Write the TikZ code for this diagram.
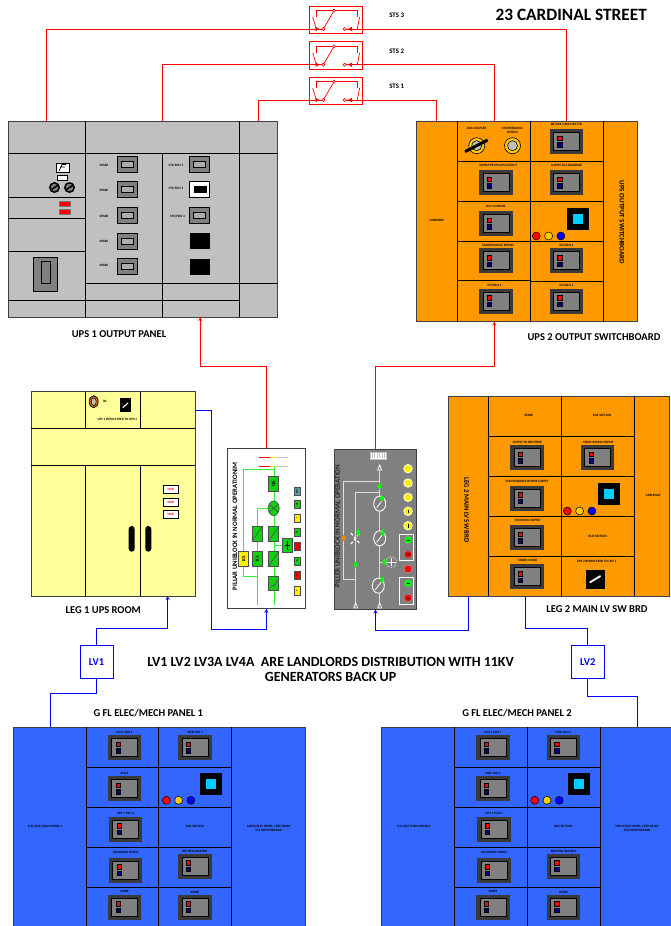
\documentclass[tikz,border=0pt]{standalone}
\usepackage{fontspec}
\setmainfont{Carlito}
\usetikzlibrary{fit,shapes.geometric,arrows,calc}

\definecolor{upsgrey}{HTML}{C0C0C0}
\definecolor{swgrey}{HTML}{808080}
\definecolor{swdark}{HTML}{3A3A3A}
\definecolor{boardorange}{HTML}{FF9900}
\definecolor{roomyellow}{HTML}{FFFF99}
\definecolor{panelblue}{HTML}{3366FF}
\definecolor{ledcyan}{HTML}{00CCFF}
\definecolor{ledamber}{HTML}{FFCC00}
\definecolor{uniblockgreen}{HTML}{10D010}
\definecolor{busgreen}{HTML}{33EE33}

\tikzstyle{panel} = [draw=black!75, line width=0.9pt, inner sep=0pt]
\tikzstyle{cell} = [black, line width=0.9pt]
\tikzstyle{redwire} = [red, line width=0.8pt]
\tikzstyle{redarrow} = [red, line width=0.8pt, ->, >=stealth]
\tikzstyle{bluewire} = [blue, line width=0.8pt]
\tikzstyle{bluearrow} = [blue, line width=0.8pt, ->, >=stealth]
\tikzstyle{lvbox} = [draw=blue, line width=0.8pt, minimum width=33pt, minimum height=33pt, inner sep=0pt, text=blue, font=\fontsize{10.5}{12}\selectfont\bfseries]
\tikzstyle{stsbox} = [draw=red, line width=0.7pt, minimum width=53.4pt, minimum height=27.7pt, inner sep=0pt]
\tikzstyle{caption} = [inner sep=0pt, font=\fontsize{10.5}{12}\selectfont\bfseries]
\tikzstyle{stslab} = [inner sep=0pt, font=\fontsize{6.9}{8}\selectfont\bfseries]
\tikzstyle{tinylab} = [inner sep=0pt, align=center, font=\fontsize{3.3}{3.8}\selectfont\bfseries]
\tikzstyle{gbox} = [draw=black!70, line width=0.7pt, fill=uniblockgreen, minimum width=10pt, minimum height=14.5pt, inner sep=0pt, font=\fontsize{5}{5}\selectfont\bfseries]
\tikzstyle{gchip} = [draw=black!70, line width=0.6pt, fill=uniblockgreen, minimum width=6pt, minimum height=8.5pt, inner sep=0pt, font=\fontsize{2.6}{3}\selectfont\bfseries]

\newcounter{labno}
\newcommand{\Lab}[3]{\stepcounter{labno}\node[tinylab] (lab\thelabno) at (#1,#2) {#3};}
\newcommand{\PanelBox}[6]{\node[panel, fill=#6, fit={(#2,#3)(#4,#5)}] (#1) {};}

% big breaker with red and navy lamps
\newcommand{\Breaker}[2]{%
  \fill[swdark] (#1-16.7,#2-12.5) rectangle (#1+16.7,#2+12.5);
  \filldraw[fill=swgrey, draw=black, line width=0.8pt] (#1-13,#2-9) rectangle (#1+13,#2+9);
  \filldraw[fill=red, draw=black, line width=0.4pt] (#1-9,#2-5.5) rectangle (#1-4.5,#2-1);
  \filldraw[fill=blue!50!black, draw=black, line width=0.4pt] (#1-9,#2+1) rectangle (#1-4.5,#2+5.5);
}
% small breaker of the grey panel
\newcommand{\GreyBrk}[2]{%
  \filldraw[fill=swgrey, draw=black, line width=0.8pt] (#1-10,#2-8) rectangle (#1+10,#2+8);
  \draw[black, fill=upsgrey!70!swgrey, line width=0.7pt] (#1-6,#2-3) rectangle (#1+6,#2+3);
}
\newcommand{\Meter}[2]{%
  \fill[black] (#1-11,#2-11) rectangle (#1+11,#2+11);
  \fill[ledcyan] (#1-5,#2-5) rectangle (#1+5,#2+5);
}
\newcommand{\ThreeLeds}[2]{%
  \filldraw[fill=red, draw=black, line width=0.5pt] (#1,#2) circle (4);
  \filldraw[fill=ledamber, draw=black, line width=0.5pt] (#1+12.3,#2) circle (4);
  \filldraw[fill=blue, draw=black, line width=0.5pt] (#1+24.6,#2) circle (4);
}
\newcommand{\KeySw}[2]{%
  \fill[black] (#1-9.5,#2-9.5) rectangle (#1+9.5,#2+9.5);
  \draw[white, line width=1.8pt, line cap=round] (#1-5,#2+3) -- (#1+5,#2-3);
}
\newcommand{\StsSwitch}[2]{%
  \begin{scope}[shift={(0,#2)}]
    \node[stsbox] (#1) at (336,19.85) {};
    \coordinate (#1l) at (323.3,29);
    \coordinate (#1r) at (344.7,29);
    \draw[red, line width=0.7pt] (#1l) -- (334,10.7);
    \draw[red, line width=0.7pt] (316,17) -- (316,10.7) -- (357.3,10.7) -- (357.3,17);
    \draw[red, line width=0.7pt] (312.7,17) -- (316.3,29) (359.6,17) -- (357.3,29);
    \filldraw[fill=white, draw=red, line width=0.6pt] (334,10.7) circle (1.6);
    \fill[red] (315.5,26.8) -- (319.5,29) -- (315.5,31.2) -- cycle;
    \fill[red] (352,26.8) -- (348,29) -- (352,31.2) -- cycle;
  \end{scope}
}
\newcommand{\StsDots}[1]{%
  \filldraw[fill=white, draw=red, line width=0.6pt] (#1l) circle (1.6);
  \filldraw[fill=white, draw=red, line width=0.6pt] (#1r) circle (1.6);
}
% ground floor panel, both are the same apart from the labels
\newcommand{\GfPanel}[9]{%
  \PanelBox{#1}{13.3+#2}{727}{305+#2}{932}{panelblue}
  \begin{scope}[shift={(#2,0)}]
    \draw[cell] (86.3,727) -- (86.3,932) (158.7,727) -- (158.7,932) (231.7,727) -- (231.7,932);
    \draw[cell] (86.3,767) -- (231.7,767) (86.3,807.3) -- (231.7,807.3) (86.3,847.3) -- (231.7,847.3) (86.3,887.7) -- (231.7,887.7);
    \Breaker{124.7}{747.3} \Breaker{124.7}{788.3} \Breaker{125.7}{829} \Breaker{125.7}{870} \Breaker{124.7}{907}
    \Breaker{195}{747.3} \Breaker{195}{866} \Breaker{195}{907}
    \Meter{210.5}{784}
    \ThreeLeds{166.3}{800.3}
    \Lab{124.5}{732.7}{#5} \Lab{195}{732.7}{#6} \Lab{124.5}{773}{#7} \Lab{125.5}{813}{#8}
    \Lab{195}{826.7}{BUS SECTION} \Lab{126}{852.7}{INCOMING SUPPLY} \Lab{195}{851.7}{#9}
    \Lab{124.5}{891.7}{SPARE} \Lab{195}{892.7}{SPARE}
    \Lab{45.3}{826.7}{#3} \Lab{268.7}{828.7}{#4}
  \end{scope}
}

\begin{document}
\begin{tikzpicture}[x=1pt, y=-1pt]
  \clip (0,0) rectangle (671,926);
  \fill[white] (0,0) rectangle (671,926);

  % UPS 1 output panel
  \PanelBox{ups1}{8}{121}{277}{317}{upsgrey}
  \draw[cell] (85,121) -- (85,317) (239,121) -- (239,317) (162,153.5) -- (162,317);
  \draw[cell] (8,153.5) -- (277,153.5) (85,283) -- (277,283) (8,300) -- (239,300);
  \draw[cell] (8,197.5) -- (85,197.5) (8,218.5) -- (85,218.5) (8,251) -- (85,251);
  \filldraw[fill=white, draw=black, line width=0.7pt] (56,163) rectangle (69.5,172.5);
  \draw[black, line width=0.7pt] (59,171) -- (62,164.5) -- (66,164.5) (60,167) -- (65,167);
  \filldraw[fill=white, draw=black, line width=0.6pt] (57.5,175) rectangle (67.5,180.5);
  \foreach \kx in {54.5,69.5} {
    \filldraw[fill=swgrey, draw=black, line width=1.5pt] (\kx,187.5) circle (4.7);
    \draw[black, line width=1.6pt] (\kx-3,189.5) -- (\kx+3,185.5);
  }
  \filldraw[fill=red, draw=upsgrey!60!black, line width=0.4pt] (59.5,201) rectangle (70.5,206.5);
  \filldraw[fill=red, draw=upsgrey!60!black, line width=0.4pt] (59.5,209) rectangle (70.5,214.5);
  \filldraw[fill=swgrey, draw=black, line width=0.7pt] (33.5,257) rectangle (57.5,291);
  \draw[black, line width=0.7pt] (41.5,261.5) rectangle (50,283);
  \foreach \by/\ty in {164.5/165.5,189/190.5,215.5/216.5,241/241.5,266.5/265.5} {
    \GreyBrk{127.5}{\by}
    \Lab{104}{\ty}{SPARE}
  }
  \GreyBrk{199.5}{164.5} \GreyBrk{199.5}{215.5}
  \filldraw[fill=white, draw=black, line width=0.8pt] (189.5,181) rectangle (209.5,197);
  \fill[black] (193.5,186) rectangle (207,192.5);
  \fill[black] (189.5,233) rectangle (209.5,249);
  \fill[black] (189.5,258.5) rectangle (209.5,274.5);
  \Lab{176}{165.5}{STS/PDU 1} \Lab{176}{188.5}{STS/PDU 2} \Lab{177.5}{216.5}{STS/PDU 3}

  % UPS 2 output switchboard
  \PanelBox{ups2}{416}{121}{637}{321.5}{boardorange}
  \draw[cell] (457.7,121) -- (457.7,321.5) (530.7,121) -- (530.7,321.5) (603.3,121) -- (603.3,321.5);
  \draw[cell] (457.7,161.3) -- (603.3,161.3) (457.7,201.2) -- (603.3,201.2) (457.7,241) -- (603.3,241);
  \draw[cell] (457.7,280.3) -- (530.7,280.3) (530.7,281.7) -- (603.3,281.7);
  \foreach \bx/\by in {566.5/141.5,496/182.5,566.5/182.5,496/223.5,496/260.7,566.5/260.7,496/301,566.5/301} {
    \Breaker{\bx}{\by}
  }
  \filldraw[fill=ledamber, draw=black, line width=0.6pt] (476.7,145.7) circle (8);
  \filldraw[fill=upsgrey, draw=black, line width=0.6pt] (476.7,145.7) circle (5);
  \draw[black, line width=3pt] (465,151.7) -- (487.7,140);
  \filldraw[fill=ledamber, draw=black, line width=0.6pt] (512.5,145.7) circle (8);
  \filldraw[fill=upsgrey, draw=black, line width=0.6pt] (512.5,145.7) circle (5);
  \Meter{578}{219.3}
  \ThreeLeds{536.3}{236}
  \Lab{476.7}{128.5}{BUS COUPLER} \Lab{512.5}{130.3}{MAINTENANCE\\BYPASS}
  \Lab{566.5}{124.7}{BB/UPS 1 BM/UPS FTD} \Lab{498.3}{165.7}{SUPPLY FROM UPS OUTPUT}
  \Lab{566.5}{165.7}{SUPPLY TO LOADBANK} \Lab{496}{206.7}{BUS COUPLER}
  \Lab{498}{245.7}{MAINTENANCE BYPASS} \Lab{566.5}{245.7}{STS/BUS 1}
  \Lab{494.5}{285}{STS/BUS 3} \Lab{566.5}{285}{STS/BUS 2} \Lab{436.7}{220.7}{CABLEWAY}
  \node[inner sep=0pt, rotate=-90, font=\fontsize{7}{8}\selectfont\bfseries] (ups2side) at (622,222.3) {UPS OUTPUT SWITCHBOARD};

  % LEG 1 UPS room
  \PanelBox{leg1}{31}{391.7}{195}{596}{roomyellow}
  \draw[cell] (85.7,391.7) -- (85.7,428.3) (140,391.7) -- (140,428.3) (85.7,465.7) -- (85.7,596) (140,465.7) -- (140,596);
  \draw[cell] (31,428.3) -- (195,428.3) (31,465.7) -- (195,465.7);
  \filldraw[fill=orange!80!black, draw=black, line width=0.7pt] (93.7,401.7) ellipse (4.5 and 6);
  \filldraw[fill=upsgrey, draw=black, line width=0.5pt] (93.7,401.7) ellipse (2.5 and 3.8);
  \fill[black] (119.7,397.7) rectangle (131,412.3);
  \draw[white, line width=1.1pt, line cap=round] (123,407.5) -- (128,403);
  \Lab{105}{401}{BS} \Lab{117.3}{419.3}{UPS 1 BYPASS FEED TO UPS 2}
  \foreach \my in {485.3,498,510.7} {
    \filldraw[fill=white, draw=black, line width=0.7pt] (163,\my) rectangle (178.7,\my+8);
    \node[tinylab, text=red] (mcb\my) at (170.8,\my+4) {MCB};
  }
  \fill[black, rounded corners=3pt] (128.7,526) rectangle (134.7,551.7);
  \fill[black, rounded corners=3pt] (145.3,526) rectangle (151.3,551.7);

  % pillar uniblock, leg 1
  \PanelBox{pillar1}{227.3}{448.7}{305.3}{608.3}{white}
  \node[inner sep=0pt, rotate=90, font=\fontsize{6.8}{7}\selectfont\bfseries] (pil1txt) at (235,526.5) {PILLAR UNIBLOCK IN NORMAL OPERATIONIM};
  \foreach \ty in {457.3,466.3} {
    \draw[red, line width=0.9pt] (259.3,\ty) -- (270,\ty);
    \draw[yellow!90!orange, line width=0.9pt] (270,\ty) -- (276.7,\ty);
    \draw[upsgrey, line width=0.9pt] (276.7,\ty) -- (288.3,\ty);
  }
  \draw[busgreen, line width=1pt] (274,466.3) -- (274,605) (257.3,605) -- (257.3,508.3) -- (274,508.3);
  \draw[busgreen, line width=1pt] (274,469) -- (243.7,469) -- (243.7,576) -- (257.3,576) (274,545) -- (282.3,545);
  \node[gbox] (q5) at (273.7,483.8) {\rotatebox{90}{Q5}};
  \node[gbox, ellipse, minimum width=11pt] (qbypass) at (273.7,508.3) {};
  \draw[black!70, line width=0.6pt] (269.5,512) -- (278,504.5) (269.5,504.5) -- (278,512);
  \node[gbox] (q4a) at (257.3,533.6) {};
  \node[gbox] (q4b) at (273.7,533.6) {};
  \node[gbox] (k1) at (257.3,558.6) {\rotatebox{90}{K1}};
  \node[gbox, fill=yellow] (ks) at (243.7,558.6) {\rotatebox{90}{KS}};
  \node[gbox] (q1) at (273.7,558.6) {};
  \node[gbox] (bat) at (287.3,545.5) {};
  \node[gbox] (q3) at (273.7,583.5) {};
  \foreach \sw in {q4a,q4b,q1} {
    \draw[black!70, line width=0.6pt] (\sw.south west) -- (\sw.north east);
  }
  \draw[black!70, line width=0.6pt] (270,586) -- (274,586) -- (277,580);
  \draw[black, line width=0.8pt] (287.3,541) -- (287.3,550) (284.5,545.5) -- (290,545.5);
  \foreach \cy/\cc/\ct in {491.3/teal!70/SBS,504.3/uniblockgreen/Q1,518.2/yellow/I,532.3/uniblockgreen/Q,546.3/red/L,561.2/uniblockgreen/R,575.3/red/L2,590.7/yellow/T} {
    \node[gchip, fill=\cc] (chip\cy) at (297,\cy) {\rotatebox{90}{\ct}};
  }

  % piller uniblock, leg 2
  \PanelBox{pillar2}{334.7}{449.3}{416.3}{609}{swgrey}
  \node[inner sep=0pt, rotate=90, text=black!85, font=\fontsize{7}{7}\selectfont\bfseries] (pil2txt) at (337.7,526) {PILLER UNIBLOCK IN NORMAL OPERATION};
  \filldraw[fill=white, draw=upsgrey, line width=0.4pt] (369.7,452.3) rectangle (386.3,459);
  \foreach \gx in {372,374.5,377,379.5,382,384.5} {
    \draw[upsgrey, line width=0.5pt] (\gx,453) -- (\gx,458.4);
  }
  \draw[upsgrey!50!white, line width=1pt] (379.7,468) -- (379.7,604) (355.7,604) -- (355.7,492.3) -- (379.7,492.3);
  \draw[upsgrey!50!white, line width=1pt] (379.7,481) -- (343.7,481) -- (343.7,579) -- (355.7,579) (379.7,562) -- (386,562);
  \foreach \ax/\ay/\ad in {379.7/465/-1,355.7/603/1,379.7/603/1} {
    \filldraw[fill=swgrey, draw=white, line width=0.8pt] (\ax,\ay) -- (\ax-2,\ay+5) -- (\ax+2,\ay+5) -- cycle;
  }
  \foreach \ox/\oy in {379.7/503.7,379.7/538.3,378.3/585.7} {
    \filldraw[fill=swgrey, draw=white, line width=0.9pt] (\ox,\oy) ellipse (6 and 7.5);
    \draw[white, line width=0.8pt] (\ox-3,\oy+4) -- (\ox+3,\oy-4);
  }
  \draw[white, line width=1.2pt, densely dashed] (351,533) -- (360,544) (351,544) -- (360,533);
  \draw[white, line width=0.6pt, densely dotted] (391.3,562) circle (5.5);
  \draw[white, line width=1pt] (386,562) -- (396,562) (391.3,558) -- (391.3,566);
  \foreach \dx/\dy in {379.7/486.3,381.7/498.3,358.3/532.7,382.7/533,355.7/564.7,384.3/562,382.3/579.7} {
    \node[diamond, fill=green, inner sep=0pt, minimum width=4.5pt, minimum height=7.5pt] (dia\dy) at (\dx,\dy) {};
  }
  \node[diamond, fill=orange, inner sep=0pt, minimum width=4.5pt, minimum height=7.5pt] (diaorange) at (343.7,538) {};
  \filldraw[fill=yellow, draw=white, line width=0.7pt] (408,468.7) circle (4.3);
  \foreach \ly in {483,497.3,511.3,525.7} {
    \filldraw[fill=yellow, draw=white, line width=0.7pt] (408,\ly) circle (4.3);
  }
  \draw[white!80!black, line width=0.7pt] (408,481) -- (408,485) (408,495.5) circle (0.5);
  \draw[black, line width=0.7pt] (408,509.5) -- (408,513) (408,524) -- (408,527.5);
  \foreach \wy in {534.3,577.7} {
    \filldraw[fill=swgrey, draw=white, line width=0.9pt] (399.3,\wy) rectangle (413,\wy+26.4);
    \filldraw[fill=green, draw=black!40, line width=0.3pt] (408,\wy+5.7) circle (3.8);
    \filldraw[fill=red, draw=black!40, line width=0.3pt] (408,\wy+20.2) circle (3.8);
    \draw[black, line width=0.6pt] (406.5,\wy+5.7) -- (409.5,\wy+5.7) (406.5,\wy+20.2) -- (409.5,\wy+20.2);
  }
  \filldraw[fill=red, draw=white!70!black, line width=0.4pt] (408,569) circle (4);

  % LEG 2 main LV switchboard
  \PanelBox{leg2}{448.3}{396.7}{669.3}{596}{boardorange}
  \draw[cell] (488.7,396.7) -- (488.7,596) (561.3,396.7) -- (561.3,596) (634.3,396.7) -- (634.3,596);
  \draw[cell] (488.7,436.3) -- (634.3,436.3) (488.7,476) -- (634.3,476) (488.7,516) -- (634.3,516) (488.7,556.3) -- (634.3,556.3);
  \foreach \bx/\by in {527/457.3,597.7/457.3,527/498,527/537.3,527/576.7} {
    \Breaker{\bx}{\by}
  }
  \Meter{609}{494}
  \ThreeLeds{567.3}{511}
  \KeySw{595.2}{579.2}
  \Lab{528.7}{415.7}{SPARE} \Lab{602}{415.7}{BUS SECTION}
  \Lab{527.3}{442.3}{SUPPLY TO RECTIFIER} \Lab{598.3}{442.3}{STATIC BYPASS SUPPLY}
  \Lab{527}{481.7}{MAINTENANCE BYPASS SUPPLY} \Lab{527.7}{520.7}{INCOMING SUPPLY}
  \Lab{527.7}{560.7}{SPARE HOUSE} \Lab{597.7}{536.7}{BUS SECTION}
  \Lab{596.7}{561.7}{UPS 2 BYPASS FEED TO UPS 1} \Lab{653.3}{495.7}{CABLEWAY}
  \node[inner sep=0pt, rotate=-90, font=\fontsize{6.8}{8}\selectfont\bfseries] (leg2side) at (466.7,510) {LEG 2 MAIN LV SW BRD};

  % ground floor panels
  \GfPanel{gf1}{0}{G FL ELEC/MECH PANEL 1}{MECH/ELEC PANEL 1 FED FROM\\LV1 SWITCHBOARD}{UPS1 SOU 5}{MER SOU 7}{SOU3}{UPS 1 SOU 6}{BB/UPS1/BM/BM}
  \GfPanel{gf2}{368.4}{G FL ELEC/MECH PANEL2}{MECH/ELEC PANEL 2 FED FROM\\LV2 SWITCHBOARD}{UPS 2 SOU 7}{MER SOU 3}{MER SOU 4}{UPS 2 SOU 6}{BB/UPS2/BM/BM}

  % static switches and red wires
  \StsSwitch{sts3}{0}
  \StsSwitch{sts2}{35.7}
  \StsSwitch{sts1}{71}
  \coordinate (ups1c) at (46.7,121);
  \coordinate (ups1b) at (162,121);
  \coordinate (ups1a) at (258,121);
  \coordinate (ups2c) at (566.7,121);
  \coordinate (ups2b) at (494.3,121);
  \coordinate (ups2a) at (436.7,121);
  \coordinate (ups1in) at (200.3,317);
  \coordinate (ups2in) at (494.3,321.5);
  \draw[redwire] (ups1c) |- (sts3l);
  \draw[redwire] (ups1b) |- (sts2l);
  \draw[redwire] (ups1a) |- (sts1l);
  \draw[redwire] (sts3r) -| (ups2c);
  \draw[redwire] (sts2r) -| (ups2b);
  \draw[redwire] (sts1r) -| (ups2a);
  \StsDots{sts3} \StsDots{sts2} \StsDots{sts1}
  \draw[redarrow] (pillar1.north) -- ++(0,-82) -| (ups1in);
  \draw[redarrow] (pillar2.north) -- ++(0,-82.6) -| (ups2in);

  % LV feeders and blue wires
  \node[lvbox] (lv1) at (96.5,661.8) {LV1};
  \node[lvbox] (lv2) at (587.8,661.8) {LV2};
  \coordinate (leg1out) at (195,410);
  \coordinate (leg1in) at (167.7,596);
  \coordinate (leg2a) at (468.3,596);
  \coordinate (leg2b) at (525.3,596);
  \coordinate (gf1in) at (50,727);
  \coordinate (gf2in) at (637,727);
  \draw[bluearrow] (leg1out) -- ++(16,0) -- ++(0,219.7) -| (pillar1.south);
  \draw[bluearrow] (leg2a) -- ++(0,34) -| (pillar2.south);
  \draw[bluearrow] (lv1.north) -- ++(0,-16.3) -| (leg1in);
  \draw[bluewire] (lv1.south) -- ++(0,14.7) -| (gf1in);
  \draw[bluewire] (lv2.north) -- ++(0,-16.3) -| (leg2b);
  \draw[bluewire] (lv2.south) -- ++(0,17.7) -| (gf2in);

  % titles
  \node[inner sep=0pt, font=\fontsize{17.3}{20}\selectfont\bfseries] (title) at (571.2,15) {23 CARDINAL STREET};
  \node[stslab] (sts3lab) at (396.7,15.7) {STS 3};
  \node[stslab] (sts2lab) at (396.7,51) {STS 2};
  \node[stslab] (sts1lab) at (396.7,86.7) {STS 1};
  \node[caption] (ups1cap) at (119,333.7) {UPS 1 OUTPUT PANEL};
  \node[caption] (ups2cap) at (594,336.7) {UPS 2 OUTPUT SWITCHBOARD};
  \node[caption] (leg1cap) at (103.3,609.7) {LEG 1 UPS ROOM};
  \node[caption] (leg2cap) at (597,609) {LEG 2 MAIN LV SW BRD};
  \node[caption] (gf1cap) at (148.3,712.7) {G FL ELEC/MECH PANEL 1};
  \node[caption] (gf2cap) at (517,712.7) {G FL ELEC/MECH PANEL 2};
  \node[inner sep=0pt, align=center, font=\fontsize{14}{15.7}\selectfont\bfseries] (note) at (330.6,669.5) {LV1 LV2 LV3A LV4A\ \ ARE LANDLORDS DISTRIBUTION WITH 11KV\\GENERATORS BACK UP};
\end{tikzpicture}
\end{document}
